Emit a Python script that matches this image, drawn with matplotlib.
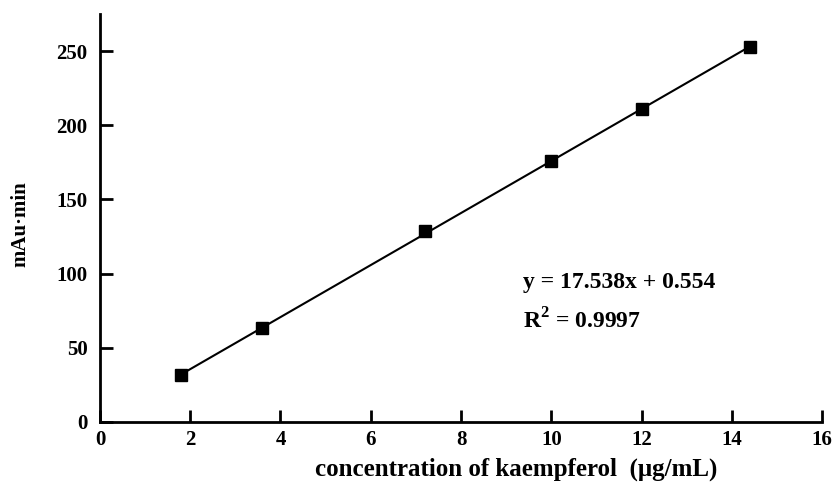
import numpy as np
import matplotlib
matplotlib.use("Agg")
import matplotlib.pyplot as plt

# Calibration data
conc = [1.8, 3.6, 7.2, 10.0, 12.0, 14.4]
area = [31.5, 63.5, 129.0, 176.0, 211.0, 252.5]

SLOPE, INTERCEPT = 17.538, 0.554
X_TICKS = [0, 2, 4, 6, 8, 10, 12, 14, 16]
Y_TICKS = [0, 50, 100, 150, 200, 250]

plt.rcParams.update({
    "font.family": "Liberation Serif",
    "font.weight": "bold",
    "font.size": 13,
    "mathtext.fontset": "custom",
    "mathtext.rm": "Liberation Serif:bold",
    "mathtext.bf": "Liberation Serif:bold",
})

fig = plt.figure(figsize=(8.38, 4.83), dpi=100)
ax = fig.add_axes([0.1193, 0.1263, 0.8617, 0.8447])

xfit = np.array([conc[0], conc[-1]])
ax.plot(xfit, SLOPE * xfit + INTERCEPT, color="black", lw=1.5, zorder=2)
ax.plot(conc, area, ls="none", marker="s", ms=8.5, color="black", zorder=3)

ax.set_xlim(0, 16)
ax.set_ylim(0, 275)
ax.set_xticks(X_TICKS)
ax.set_yticks(Y_TICKS)
for s in ["top", "right"]:
    ax.spines[s].set_visible(False)
for s in ["left", "bottom"]:
    ax.spines[s].set_linewidth(2)
ax.tick_params(direction="in", length=9, width=2, labelsize=15)
ax.tick_params(axis="y", pad=9)
ax.tick_params(axis="x", pad=6)

ax.set_xlabel("concentration of kaempferol  (\u03bcg/mL)", fontsize=18,
              fontweight="bold", va="center")
ax.xaxis.set_label_coords(0.577, -0.115)
ax.set_ylabel("mAu\u00b7min", fontsize=15, fontweight="bold")
ax.yaxis.set_label_coords(-0.096, 0.485)

ax.text(9.38, 94, "y = 17.538x + 0.554", fontsize=17, fontweight="bold",
        va="center", ha="left")
ax.text(9.38, 68, "R$^{2}$ = 0.9997", fontsize=17, fontweight="bold",
        va="center", ha="left")

fig.savefig("out.png", dpi=100)
